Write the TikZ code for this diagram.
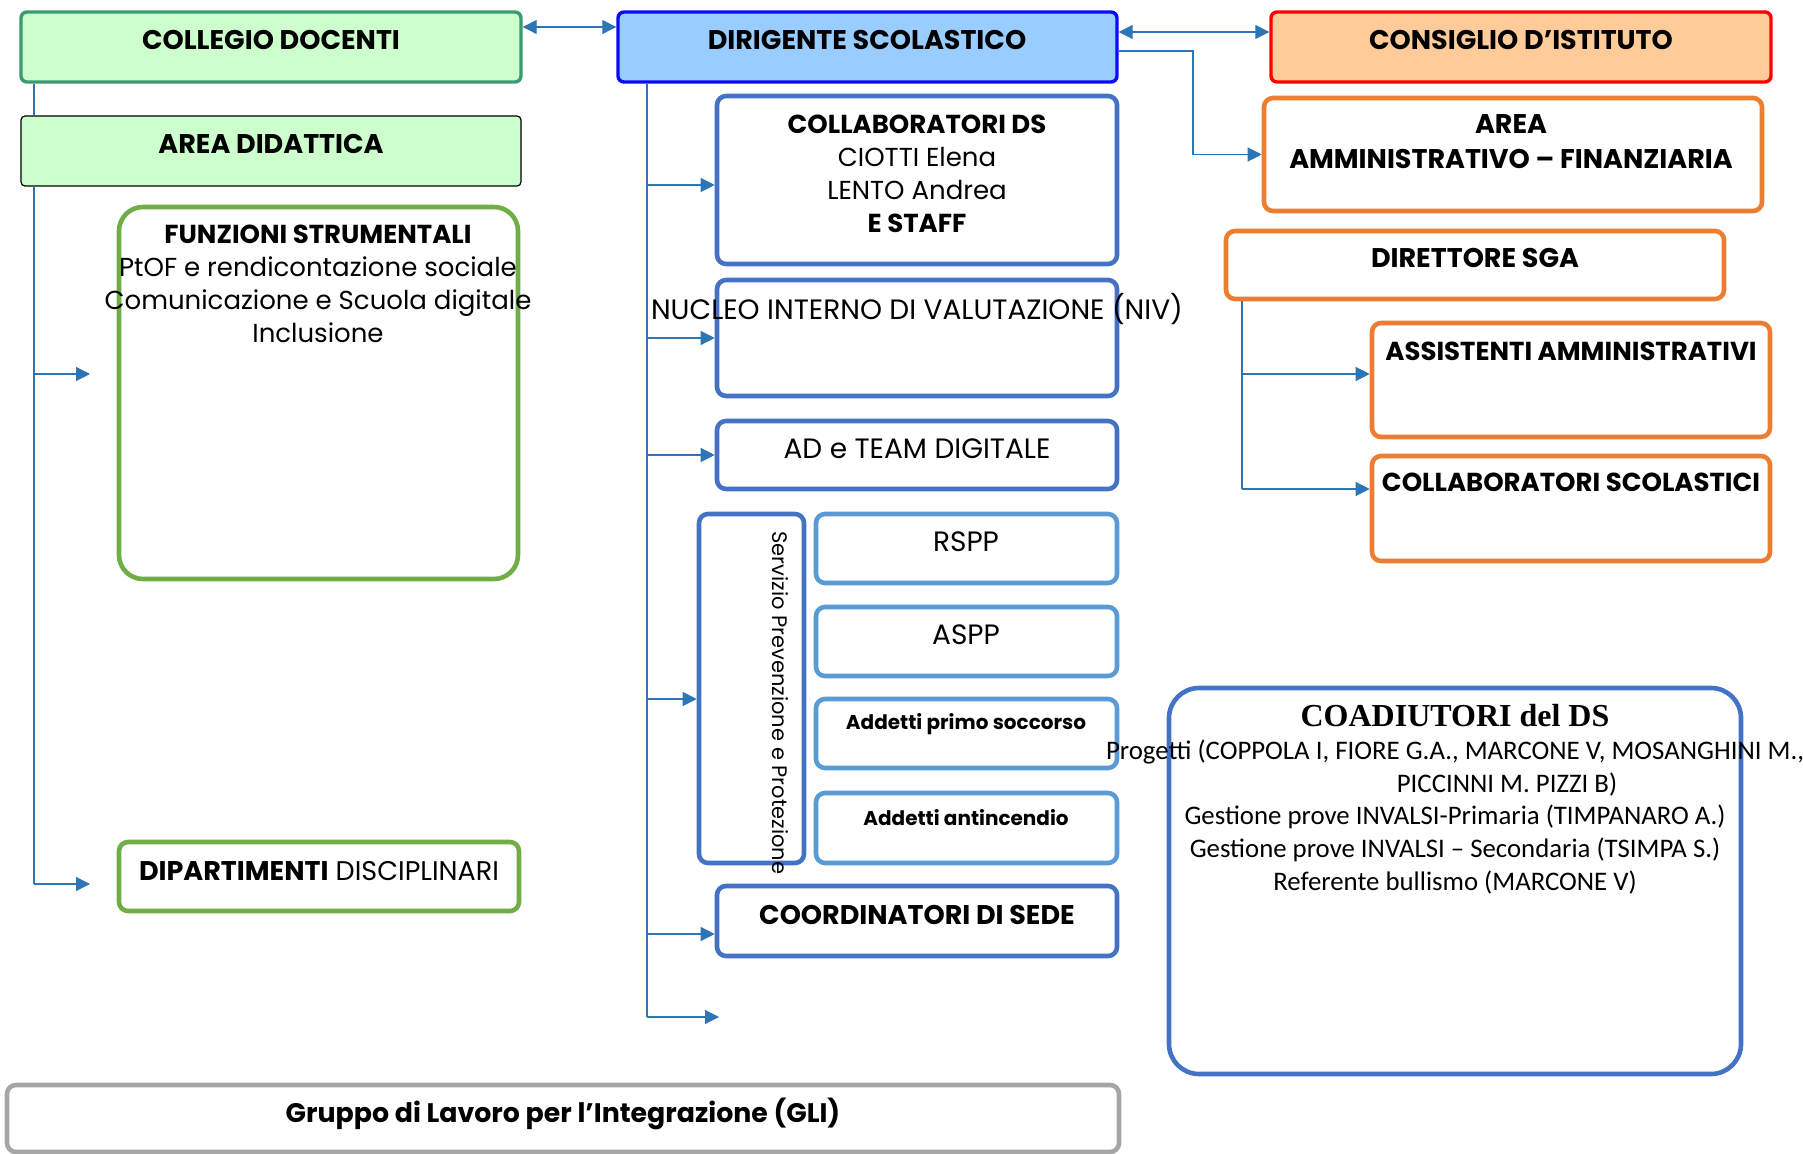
\documentclass[tikz,border=0pt]{standalone}
\usepackage{fontspec}
\setmainfont{Poppins}
\newfontfamily\calibrifont{Carlito}
\newfontfamily\timesfont{Liberation Serif}
\usetikzlibrary{arrows.meta,fit,positioning}

\definecolor{cdgreen}{HTML}{3D9970}
\definecolor{cdfill}{HTML}{CCFFCC}
\definecolor{fsgreen}{HTML}{70AD47}
\definecolor{dsblue}{HTML}{0A0AFF}
\definecolor{dsfill}{HTML}{99CCFF}
\definecolor{cired}{HTML}{FF0000}
\definecolor{cifill}{HTML}{FFCC99}
\definecolor{orline}{HTML}{ED7D31}
\definecolor{bxblue}{HTML}{4472C4}
\definecolor{ltblue}{HTML}{5B9BD5}
\definecolor{wireblue}{HTML}{2E75B6}
\definecolor{gligray}{HTML}{A6A6A6}

\tikzset{
  box/.style={inner sep=0pt, line width=2.3pt, rounded corners=4.5pt, fill=white},
  cdbox/.style={box, draw=cdgreen, fill=cdfill, line width=1.7pt, rounded corners=3pt},
  adbox/.style={box, draw=black, fill=cdfill, line width=0.6pt, rounded corners=2pt},
  dsbox/.style={box, draw=dsblue, fill=dsfill, line width=1.7pt, rounded corners=3pt},
  cibox/.style={box, draw=cired, fill=cifill, line width=1.7pt, rounded corners=3pt},
  greenbox/.style={box, draw=fsgreen},
  bluebox/.style={box, draw=bxblue},
  ltbox/.style={box, draw=ltblue},
  orbox/.style={box, draw=orline},
  graybox/.style={box, draw=gligray},
  ttl/.style={inner sep=0pt, align=center, font=\fontsize{13.5}{17}\selectfont\bfseries},
  txt/.style={inner sep=0pt, align=center, font=\fontsize{13}{16.5}\selectfont},
  caps/.style={txt, font=\fontsize{14}{16.5}\selectfont},
  wire/.style={draw=wireblue, line width=0.6pt},
  arr/.style={wire, -{Triangle[length=7pt,width=7pt]}},
  arrs/.style={wire, {Triangle[length=7pt,width=7pt]}-{Triangle[length=7pt,width=7pt]}},
}

\begin{document}
\begin{tikzpicture}[x=0.5pt,y=-0.5pt]
\useasboundingbox (0,0) rectangle (1803,1154);

% area didattica
\node[cdbox, fit={(21,12) (521,82)}] (collegio) {};
\node[adbox, fit={(21,116) (521,186)}] (areadid) {};
\node[greenbox, rounded corners=12pt, fit={(119,207) (518,579)}] (funzioni) {};
\node[greenbox, fit={(119,842) (519,911)}] (dipart) {};

% dirigenza
\node[dsbox, fit={(618,12) (1117,82)}] (dirigente) {};
\node[bluebox, fit={(717,96) (1117,264)}] (collabds) {};
\node[bluebox, fit={(717,280) (1117,396)}] (niv) {};
\node[bluebox, fit={(717,421) (1117,489)}] (team) {};
\node[bluebox, fit={(699,514) (804,863)}] (spp) {};
\node[ltbox, fit={(816,514) (1117,583)}] (rspp) {};
\node[ltbox, fit={(816,607) (1117,676)}] (aspp) {};
\node[ltbox, fit={(816,699) (1117,768)}] (soccorso) {};
\node[ltbox, fit={(816,793) (1117,863)}] (antinc) {};
\node[bluebox, fit={(717,886) (1117,956)}] (coordsede) {};
\node[graybox, fit={(7,1085) (1119,1152)}] (gli) {};

% area amministrativa
\node[cibox, fit={(1271,12) (1771,82)}] (consiglio) {};
\node[orbox, fit={(1264,98) (1762,211)}] (areaamm) {};
\node[orbox, fit={(1226,231) (1724,299)}] (dsga) {};
\node[orbox, fit={(1372,323) (1770,437)}] (assist) {};
\node[orbox, fit={(1372,456) (1770,561)}] (collabsc) {};
\node[bluebox, rounded corners=15pt, fit={(1169,688) (1741,1074)}] (coadiut) {};

% testi
\node[ttl] (tcollegio) at (271,40) {COLLEGIO DOCENTI};
\node[ttl] (tareadid) at (271,144) {AREA DIDATTICA};
\node[txt] (tfunzioni) at (318,284) {\textbf{FUNZIONI STRUMENTALI}\\PtOF e rendicontazione sociale\\Comunicazione e Scuola digitale\\Inclusione};
\node[txt, font=\fontsize{13.5}{16.5}\selectfont] (tdipart) at (319,871) {\textbf{DIPARTIMENTI} DISCIPLINARI};
\node[ttl] (tdirigente) at (867,40) {DIRIGENTE SCOLASTICO};
\node[txt] (tcollabds) at (917,174) {\textbf{COLLABORATORI DS}\\CIOTTI Elena\\LENTO Andrea\\\textbf{E STAFF}};
\node[caps] (tniv) at (917,309) {NUCLEO INTERNO DI VALUTAZIONE (NIV)};
\node[caps] (tteam) at (917,449) {AD e TEAM DIGITALE};
\node[txt, rotate=-90, font=\fontsize{10.5}{12}\selectfont] (tspp) at (780,703) {Servizio Prevenzione e Protezione};
\node[caps] (trspp) at (966,542) {RSPP};
\node[caps] (taspp) at (966,635) {ASPP};
\node[txt, font=\fontsize{10}{12}\selectfont\bfseries] (tsoccorso) at (966,724) {Addetti primo soccorso};
\node[txt, font=\fontsize{10}{12}\selectfont\bfseries] (tantinc) at (966,818) {Addetti antincendio};
\node[ttl] (tcoordsede) at (917,915) {COORDINATORI DI SEDE};
\node[ttl, font=\fontsize{13.4}{15}\selectfont\bfseries] (tgli) at (563,1114) {Gruppo di Lavoro per l’Integrazione (GLI)};
\node[ttl] (tconsiglio) at (1521,40) {CONSIGLIO D’ISTITUTO};
\node[ttl, font=\fontsize{13.5}{17.5}\selectfont\bfseries] (tareaamm) at (1511,142) {AREA\\AMMINISTRATIVO – FINANZIARIA};
\node[ttl] (tdsga) at (1475,258) {DIRETTORE SGA};
\node[ttl, font=\fontsize{13}{16}\selectfont\bfseries] (tassist) at (1571,351) {ASSISTENTI AMMINISTRATIVI};
\node[ttl, font=\fontsize{13}{16}\selectfont\bfseries] (tcollabsc) at (1571,482) {COLLABORATORI SCOLASTICI};
\node[ttl, font=\timesfont\fontsize{16}{18}\selectfont\bfseries] (tcoadiut) at (1455,716) {COADIUTORI del DS};
\node[txt, font=\calibrifont\fontsize{13.4}{16.3}\selectfont] (tcoadtxt) at (1455,817) {Progetti (COPPOLA I, FIORE G.A., MARCONE V, MOSANGHINI M.,\\\hspace*{52pt}PICCINNI M. PIZZI B)\\Gestione prove INVALSI-Primaria (TIMPANARO A.)\\Gestione prove INVALSI – Secondaria (TSIMPA S.)\\Referente bullismo (MARCONE V)};

% collegamenti
\coordinate (lfoot) at (34,884);
\coordinate (fsin) at (90,374);
\coordinate (dpin) at (90,884);
\coordinate (mfoot) at (647,1017);
\coordinate (mend) at (719,1017);
\coordinate (rfoot) at (1242,489);
\coordinate (amcorner) at (1193,51);

\draw[arrs] (collegio.east |- 0,27) -- (dirigente.west |- 0,27);
\draw[arrs] (dirigente.east |- 0,32) -- (consiglio.west |- 0,32);
\draw[arr] (dirigente.east |- amcorner) -- (amcorner) |- (areaamm.west);

\draw[wire] (collegio.south -| lfoot) -- (areadid.north -| lfoot);
\draw[wire] (areadid.south -| lfoot) -- (lfoot);
\draw[arr] (lfoot |- fsin) -- (fsin);
\draw[arr] (lfoot) -- (dpin);

\draw[wire] (dirigente.south -| mfoot) -- (mfoot);
\draw[arr] (mfoot |- 0,185) -- (collabds.west |- 0,185);
\draw[arr] (mfoot |- niv.west) -- (niv.west);
\draw[arr] (mfoot |- team.west) -- (team.west);
\draw[arr] (mfoot |- 0,699) -- (spp.west |- 0,699);
\draw[arr] (mfoot |- 0,934) -- (coordsede.west |- 0,934);
\draw[arr] (mfoot) -- (mend);

\draw[wire] (dsga.south -| rfoot) -- (rfoot);
\draw[arr] (rfoot |- 0,374) -- (assist.west |- 0,374);
\draw[arr] (rfoot) -- (collabsc.west |- rfoot);
\end{tikzpicture}
\end{document}
